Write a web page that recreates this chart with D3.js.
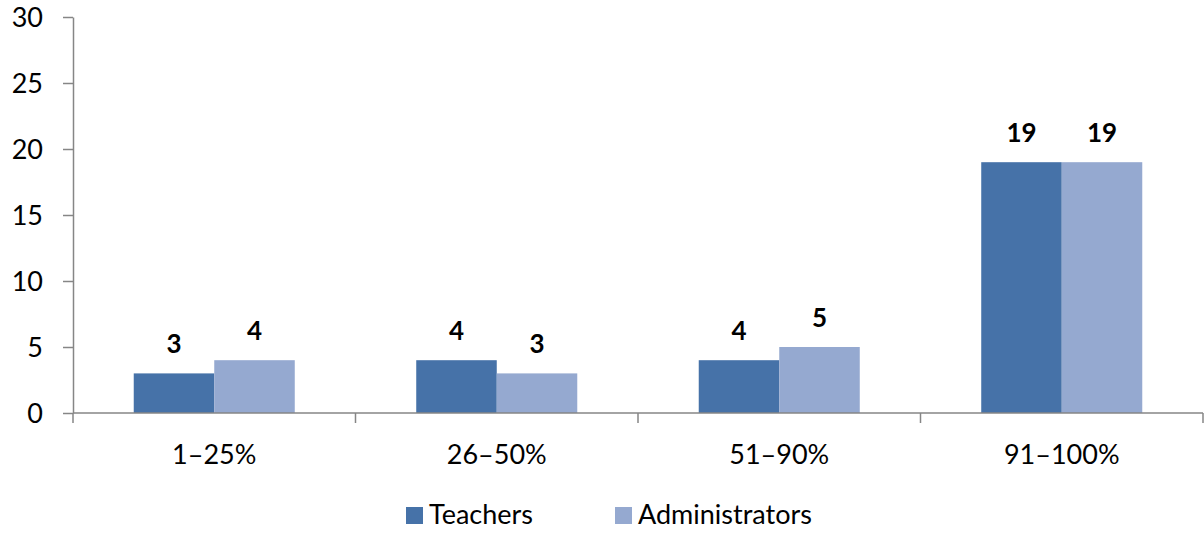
<!DOCTYPE html>
<html>
<head>
<meta charset="utf-8">
<script src="https://cdn.jsdelivr.net/npm/d3@7"></script>
<style>
  html, body { margin: 0; padding: 0; background: #fff; }
  svg { display: block; font-family: Lato, "Open Sans", sans-serif; }
</style>
</head>
<body>
<svg id="chart" width="1204" height="535"></svg>
<script>
// Share ranges and the counts reported by each group
const categories = ["1–25%", "26–50%", "51–90%", "91–100%"];
const seriesNames = ["Teachers", "Administrators"];
const teachers = [3, 4, 4, 19];
const administrators = [4, 3, 5, 19];
const yTicks = [0, 5, 10, 15, 20, 25, 30];
const colors = ["#4672A8", "#95A9D0"];

const FONT = 27;
const svg = d3.select("#chart");
const plot = { left: 73, right: 1203, top: 17, bottom: 413 };

const x = d3.scaleBand().domain(categories).range([plot.left, plot.right]).padding(0);
// each pair of bars fills about 57% of its category band, centred
const groupFrac = 0.57;
const inner = d3.scaleBand().domain(seriesNames)
  .range([x.bandwidth() * (1 - groupFrac) / 2, x.bandwidth() * (1 + groupFrac) / 2])
  .padding(0);

const y = d3.scaleLinear().domain([0, 30]).range([plot.bottom, plot.top]);

const rows = categories.map((c, i) => ({ cat: c, values: [teachers[i], administrators[i]] }));

// Bars
const groups = svg.append("g").selectAll("g").data(rows).join("g")
  .attr("transform", d => `translate(${x(d.cat)},0)`);

groups.selectAll("rect").data(d => d.values.map((v, k) => ({ v, k })))
  .join("rect")
  .attr("x", d => inner(seriesNames[d.k]))
  .attr("width", inner.bandwidth())
  .attr("y", d => y(d.v))
  .attr("height", d => y(0) - y(d.v))
  .attr("fill", d => colors[d.k]);

// Value labels
groups.selectAll("text").data(d => d.values.map((v, k) => ({ v, k })))
  .join("text")
  .attr("x", d => inner(seriesNames[d.k]) + inner.bandwidth() / 2)
  .attr("y", d => y(d.v) - 20)
  .attr("text-anchor", "middle")
  .attr("font-size", 26)
  .attr("font-weight", "bold")
  .attr("fill", "#000")
  .text(d => d.v);

// Y axis
const yAxis = svg.append("g").attr("transform", `translate(${plot.left},0)`)
  .call(d3.axisLeft(y).tickValues(yTicks).tickSize(10).tickPadding(20).tickSizeOuter(0));
yAxis.select(".domain").attr("stroke", "#868686").attr("stroke-width", 1.5);
yAxis.selectAll(".tick line").attr("stroke", "#868686").attr("stroke-width", 1.5);
yAxis.selectAll(".tick text").attr("font-size", FONT).attr("fill", "#000")
  .attr("font-family", "Lato, 'Open Sans', sans-serif").attr("dy", "0.35em");

// X axis with category boundary ticks
const xAxis = svg.append("g").attr("transform", `translate(0,${plot.bottom})`);
xAxis.append("line")
  .attr("x1", plot.left).attr("x2", plot.right)
  .attr("y1", 0).attr("y2", 0)
  .attr("stroke", "#868686").attr("stroke-width", 1.5);
const bounds = categories.map(c => x(c)).concat([x(categories[categories.length - 1]) + x.bandwidth()]);
xAxis.selectAll("line.b").data(bounds).join("line").attr("class", "b")
  .attr("x1", d => d).attr("x2", d => d)
  .attr("y1", 0).attr("y2", 10)
  .attr("stroke", "#868686").attr("stroke-width", 1.5);
xAxis.selectAll("text").data(categories).join("text")
  .attr("x", d => x(d) + x.bandwidth() / 2)
  .attr("y", 51)
  .attr("text-anchor", "middle")
  .attr("font-size", FONT)
  .attr("fill", "#000")
  .text(d => d);

// Legend
const legend = svg.append("g");
const legendPos = [406, 615];
seriesNames.forEach((name, k) => {
  legend.append("rect")
    .attr("x", legendPos[k]).attr("y", 507)
    .attr("width", 17).attr("height", 17)
    .attr("fill", colors[k]);
  legend.append("text")
    .attr("x", legendPos[k] + 23).attr("y", 524)
    .attr("font-size", FONT).attr("fill", "#000")
    .text(name);
});
</script>
</body>
</html>
